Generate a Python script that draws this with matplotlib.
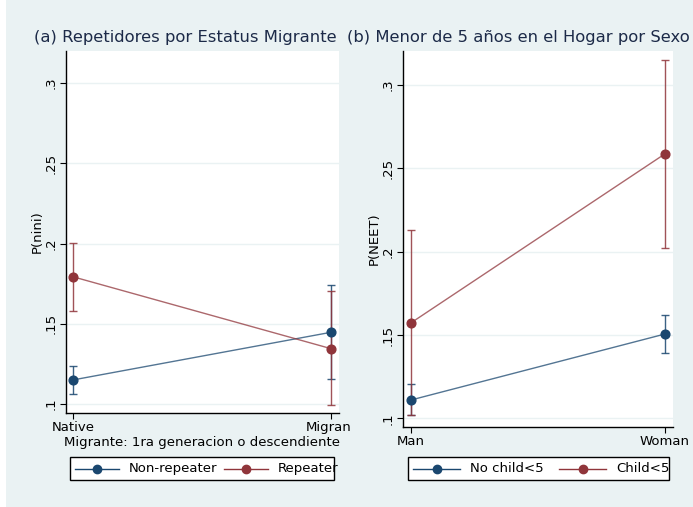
import numpy as np
import matplotlib
matplotlib.use('Agg')
import matplotlib.pyplot as plt
from matplotlib.patches import Rectangle
from matplotlib.lines import Line2D

plt.rcParams['font.family'] = ['DejaVu Sans']

# panel (a)
groups_a = ['Native', 'Migrant']
nonrep = [0.115, 0.1447]
nonrep_lo = [0.106, 0.1154]
nonrep_hi = [0.1239, 0.174]
rep = [0.1793, 0.1345]
rep_lo = [0.158, 0.0992]
rep_hi = [0.2005, 0.1704]

# panel (b)
groups_b = ['Man', 'Woman']
nochild = [0.111, 0.1506]
nochild_lo = [0.102, 0.139]
nochild_hi = [0.1204, 0.162]
child = [0.1573, 0.2587]
child_lo = [0.102, 0.202]
child_hi = [0.213, 0.315]

yticks = [0.1, 0.15, 0.2, 0.25, 0.3]
ytick_labels = ['.1', '.15', '.2', '.25', '.3']

bg = '#eaf2f3'
blue = '#1a476f'
red = '#90353b'
title_col = '#1c2a48'
W, H = 693, 507

fig = plt.figure(figsize=(6.93, 5.07), dpi=100, facecolor='white')
fig.patches.append(Rectangle((6 / W, 0), 1, 1, transform=fig.transFigure,
                             facecolor=bg, edgecolor='none', zorder=-10))
# right-hand panel background, drawn over the left panel's overflow
fig.patches.append(Rectangle((351 / W, 0), 1, 1, transform=fig.transFigure,
                             facecolor=bg, edgecolor='none', zorder=0.5))


def px(x, y):
    return x / W, 1 - y / H


def add_ax(x0, x1, ytop, ybot, z):
    ax = fig.add_axes([x0 / W, (H - ybot) / H, (x1 - x0) / W, (ybot - ytop) / H])
    ax.set_zorder(z)
    return ax


def panel(ax, cats, s1, lo1, hi1, s2, lo2, hi2, xlim, ylim):
    x = np.arange(len(cats))
    for s, lo, hi, c in [(s1, lo1, hi1, blue), (s2, lo2, hi2, red)]:
        s, lo, hi = map(np.asarray, (s, lo, hi))
        ax.errorbar(x, s, yerr=[s - lo, hi - s], fmt='none', ecolor=c,
                    elinewidth=1.0, capsize=3, capthick=1.0, alpha=0.85, zorder=3)
        ax.plot(x, s, color=c, lw=1.0, alpha=0.75, zorder=2)
        ax.plot(x, s, 'o', color=c, ms=6.3, zorder=4)
    ax.set_xlim(*xlim)
    ax.set_ylim(*ylim)
    ax.set_xticks(x)
    ax.set_xticklabels(cats, fontsize=9.5)
    ax.set_yticks(yticks)
    ax.set_yticklabels(ytick_labels, fontsize=9.5, rotation=90, va='center')
    for sp in ['top', 'right']:
        ax.spines[sp].set_visible(False)
    for sp in ['left', 'bottom']:
        ax.spines[sp].set_color('black')
        ax.spines[sp].set_linewidth(1.0)
    ax.tick_params(axis='both', length=4, width=0.8, pad=2)
    ax.grid(axis='y', color=bg, lw=1.0)
    ax.set_axisbelow(True)
    ax.set_facecolor('white')


def legend(ax, labels, bx0, bx1, starts, hlen):
    # stata-style legend: fixed box, equal-width columns, text may overflow
    tf = fig.transFigure
    y0, y1 = 457, 480
    yc = (y0 + y1) / 2
    ax.add_patch(Rectangle(px(bx0, y1), (bx1 - bx0) / W, (y1 - y0) / H,
                           transform=tf, facecolor='white', edgecolor='none',
                           clip_on=False, zorder=6))
    for lab, c, xs in zip(labels, [blue, red], starts):
        ax.add_line(Line2D([xs / W, (xs + hlen) / W], [1 - yc / H] * 2, color=c,
                           lw=1.0, transform=tf, clip_on=False, zorder=7))
        ax.add_line(Line2D([(xs + hlen / 2) / W], [1 - yc / H], color=c, marker='o',
                           ms=6, transform=tf, clip_on=False, zorder=7))
        ax.text((xs + hlen + 10) / W, 1 - yc / H, lab, transform=tf, fontsize=9.5,
                va='center', ha='left', clip_on=False, zorder=7)
    ax.add_patch(Rectangle(px(bx0, y1), (bx1 - bx0) / W, (y1 - y0) / H,
                           transform=tf, facecolor='none', edgecolor='black',
                           lw=1.0, clip_on=False, zorder=8))


ax1 = add_ax(66, 339, 51, 413, 0)
panel(ax1, groups_a, nonrep, nonrep_lo, nonrep_hi, rep, rep_lo, rep_hi,
      (-0.027, 1.031), (0.0944, 0.320))
ax1.set_ylabel('P(nini)', fontsize=9.5)
ax1.yaxis.set_label_coords(-0.08, 0.5)
ax1.set_xlabel('Migrante: 1ra generacion o descendiente', fontsize=9.5, labelpad=1)
legend(ax1, ['Non-repeater', 'Repeater'], 70, 334, [75, 224], 44)

ax2 = add_ax(403, 673, 51, 427, 1)
panel(ax2, groups_b, nochild, nochild_lo, nochild_hi, child, child_lo, child_hi,
      (-0.0315, 1.0315), (0.0948, 0.3204))
ax2.set_ylabel('P(NEET)', fontsize=9.5)
ax2.yaxis.set_label_coords(-0.081, 0.5)
legend(ax2, ['No child<5', 'Child<5'], 408, 669, [413, 559], 47)

fig.text(185 / W, 1 - 38 / H, '(a) Repetidores por Estatus Migrante',
         ha='center', va='center', fontsize=11.8, color=title_col)
fig.text(518 / W, 1 - 38 / H, '(b) Menor de 5 años en el Hogar por Sexo',
         ha='center', va='center', fontsize=11.8, color=title_col, zorder=2)

fig.savefig('out.png', dpi=100, facecolor=fig.get_facecolor())
